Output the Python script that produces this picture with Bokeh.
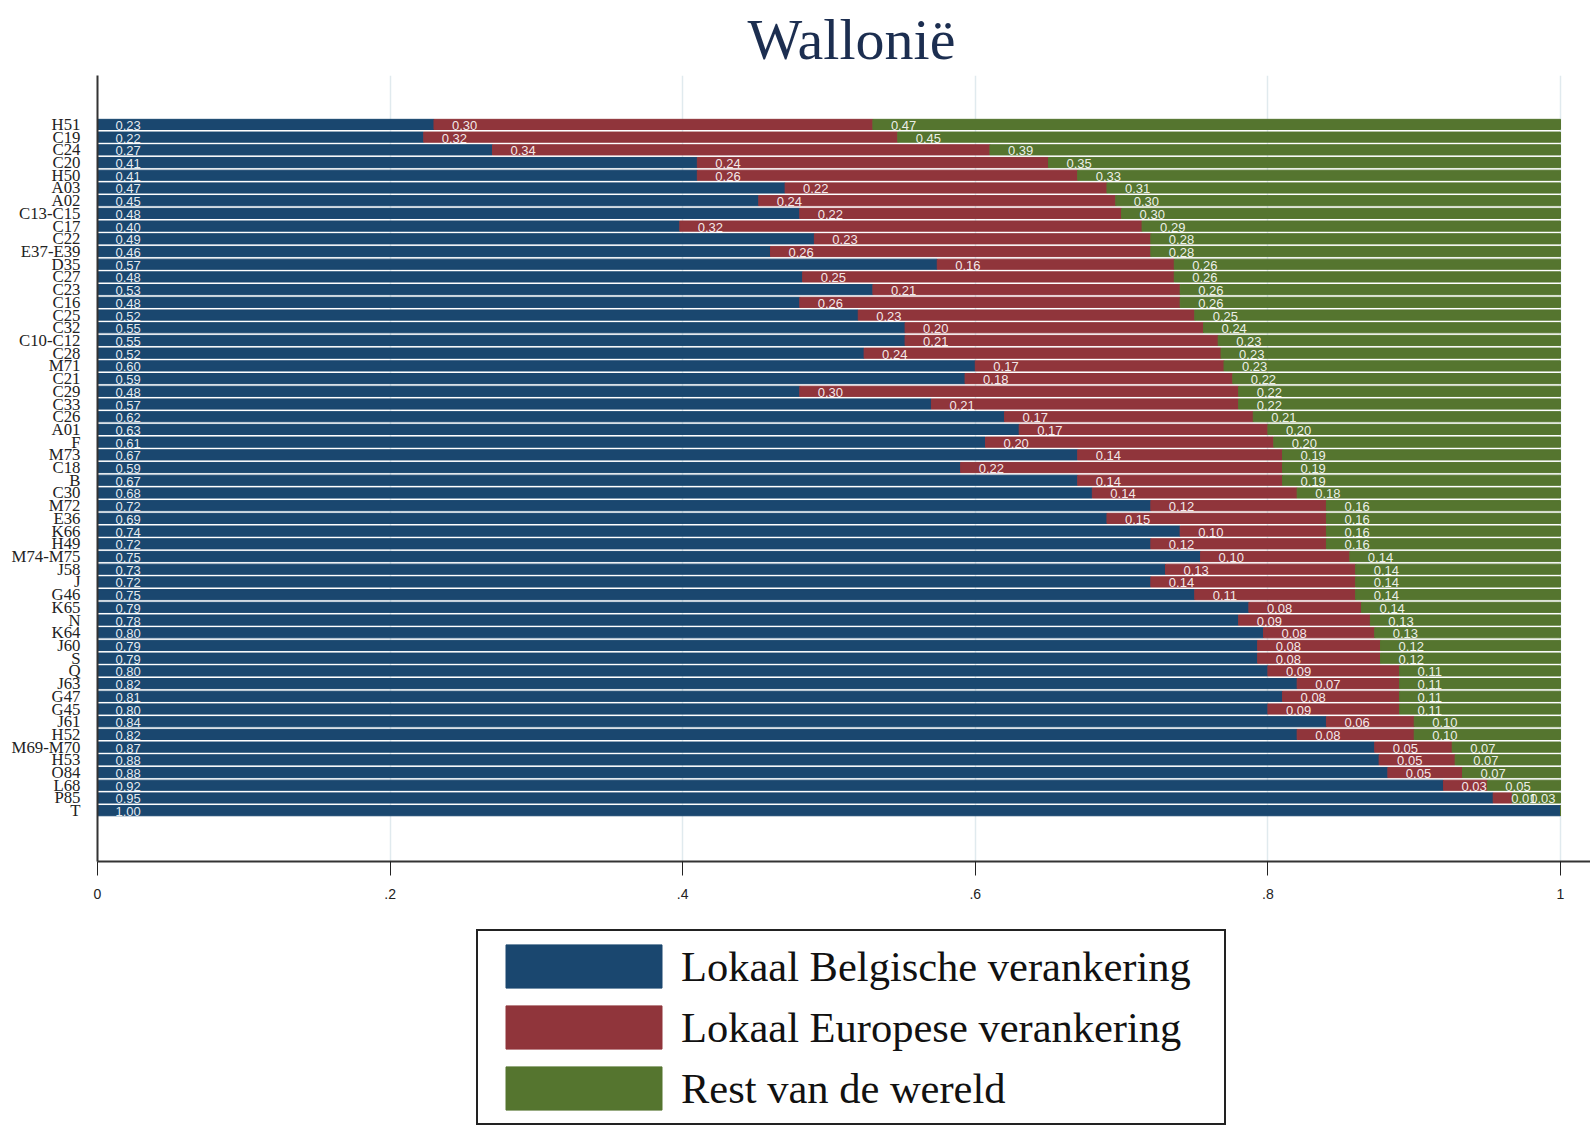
from bokeh.plotting import figure
from bokeh.layouts import column
from bokeh.models import (ColumnDataSource, Legend, LegendItem, FixedTicker, Range1d,
                          CustomJSTickFormatter)
from bokeh.core.properties import value
from bokeh.embed import file_html
from bokeh.resources import INLINE

title_text = "Wallonië"

categories = ["H51", "C19", "C24", "C20", "H50", "A03", "A02", "C13-C15", "C17", "C22",
              "E37-E39", "D35", "C27", "C23", "C16", "C25", "C32", "C10-C12", "C28", "M71",
              "C21", "C29", "C33", "C26", "A01", "F", "M73", "C18", "B", "C30",
              "M72", "E36", "K66", "H49", "M74-M75", "J58", "J", "G46", "K65", "N",
              "K64", "J60", "S", "Q", "J63", "G47", "G45", "J61", "H52", "M69-M70",
              "H53", "O84", "L68", "P85", "T"]

local_be = [0.23, 0.223, 0.27, 0.41, 0.41, 0.47, 0.452, 0.48, 0.398, 0.49,
            0.46, 0.574, 0.482, 0.53, 0.48, 0.52, 0.552, 0.552, 0.524, 0.60,
            0.593, 0.48, 0.57, 0.62, 0.63, 0.607, 0.67, 0.59, 0.67, 0.68,
            0.72, 0.69, 0.74, 0.72, 0.754, 0.73, 0.72, 0.75, 0.787, 0.78,
            0.797, 0.793, 0.793, 0.80, 0.82, 0.81, 0.80, 0.84, 0.82, 0.873,
            0.876, 0.882, 0.92, 0.954, 1.00]

local_eu = [0.30, 0.324, 0.34, 0.24, 0.26, 0.22, 0.244, 0.22, 0.316, 0.23,
            0.26, 0.162, 0.254, 0.21, 0.26, 0.23, 0.204, 0.214, 0.244, 0.17,
            0.183, 0.30, 0.21, 0.17, 0.17, 0.197, 0.14, 0.22, 0.14, 0.14,
            0.12, 0.15, 0.10, 0.12, 0.102, 0.13, 0.14, 0.11, 0.077, 0.09,
            0.076, 0.084, 0.084, 0.09, 0.07, 0.08, 0.09, 0.06, 0.08, 0.053,
            0.052, 0.051, 0.03, 0.013, 0.0]

rest_world = [0.47, 0.453, 0.39, 0.35, 0.33, 0.31, 0.304, 0.30, 0.286, 0.28,
              0.28, 0.264, 0.264, 0.26, 0.26, 0.25, 0.244, 0.234, 0.232, 0.23,
              0.224, 0.22, 0.22, 0.21, 0.20, 0.196, 0.19, 0.19, 0.19, 0.18,
              0.16, 0.16, 0.16, 0.16, 0.144, 0.14, 0.14, 0.14, 0.136, 0.13,
              0.127, 0.123, 0.123, 0.11, 0.11, 0.11, 0.11, 0.10, 0.10, 0.074,
              0.072, 0.067, 0.05, 0.033, 0.0]

series_names = ["Lokaal Belgische verankering", "Lokaal Europese verankering", "Rest van de wereld"]
series_colors = ["#1a476f", "#90353b", "#55752f"]

x_ticks = [0, 0.2, 0.4, 0.6, 0.8, 1]
x_tick_labels = ["0", ".2", ".4", ".6", ".8", "1"]

n = len(categories)
ypos = [n - 1 - i for i in range(n)]

source = ColumnDataSource(dict(y=ypos, be=local_be, eu=local_eu, rw=rest_world))

p = figure(width=1590, height=910,
           x_range=Range1d(0, 1.0205), y_range=Range1d(-4.0, 57.85),
           output_backend="svg", toolbar_location=None,
           min_border_left=97, min_border_right=0, min_border_top=73, min_border_bottom=49)

renderers = p.hbar_stack(["be", "eu", "rw"], y="y", height=0.8, color=series_colors,
                         source=source)

# value labels at the start of each segment
series_vals = [local_be, local_eu, rest_world]
starts = [[0.0] * n,
          list(local_be),
          [a + b for a, b in zip(local_be, local_eu)]]
for vals, st in zip(series_vals, starts):
    xs, ys, txt = [], [], []
    for v, s, yy in zip(vals, st, ypos):
        if v > 0:
            xs.append(s)
            ys.append(yy)
            txt.append(f"{v:.2f}")
    p.text(x=xs, y=ys, text=txt, x_offset=18, y_offset=1,
           text_color="white", text_alpha=0.9,
           text_font=value("Liberation Sans"), text_font_size="13px",
           text_baseline="middle", text_align="left")

# axes
p.xaxis.ticker = FixedTicker(ticks=x_ticks)
p.xaxis.formatter = CustomJSTickFormatter(
    args=dict(vals=x_ticks, labs=x_tick_labels),
    code="const i = vals.findIndex(v => Math.abs(v - tick) < 1e-9); return i >= 0 ? labs[i] : '';")
p.xaxis.major_tick_out = 14
p.xaxis.major_tick_in = 0
p.xaxis.minor_tick_line_color = None
p.xaxis.axis_line_width = 2
p.xaxis.axis_line_color = "#333333"
p.xaxis.major_tick_line_color = "#222222"
p.xaxis.major_label_text_font = "Liberation Sans"
p.xaxis.major_label_text_font_size = "14px"
p.xaxis.major_label_text_color = "#222222"
p.xaxis.major_label_standoff = 13

p.yaxis.ticker = FixedTicker(ticks=ypos)
p.yaxis.formatter = CustomJSTickFormatter(
    args=dict(ys=ypos, names=categories),
    code="const i = ys.indexOf(Math.round(tick)); return i >= 0 ? names[i] : '';")
p.yaxis.major_tick_line_color = None
p.yaxis.major_tick_out = 0
p.yaxis.major_tick_in = 0
p.yaxis.minor_tick_line_color = None
p.yaxis.axis_line_width = 2
p.yaxis.axis_line_color = "#333333"
p.yaxis.major_label_text_font = "Liberation Serif"
p.yaxis.major_label_text_font_size = "16.8px"
p.yaxis.major_label_text_color = "#222222"
p.yaxis.major_label_standoff = 17

p.xgrid.ticker = FixedTicker(ticks=x_ticks)
p.xgrid.grid_line_color = "#e0eaee"
p.xgrid.grid_line_width = 1.5
p.ygrid.grid_line_color = None
p.outline_line_color = None

p.title.text = title_text
p.title.align = "left"
p.title.offset = 650
p.title.text_font = "Liberation Serif"
p.title.text_font_size = "58px"
p.title.text_font_style = "normal"
p.title.text_color = "#1c2e50"
p.title.standoff = 8

# legend panel underneath (its renderers use the same data, drawn outside its visible range)
p2 = figure(width=1590, height=216, x_range=Range1d(0, 1), y_range=Range1d(1000, 1001),
            output_backend="svg", toolbar_location=None, min_border=0)
p2.axis.visible = False
p2.grid.visible = False
p2.outline_line_color = None
legend_renderers = p2.hbar_stack(["be", "eu", "rw"], y="y", height=0.8, color=series_colors,
                                 source=source)

legend = Legend(items=[LegendItem(label=name, renderers=[r]) for name, r in zip(series_names, legend_renderers)],
                location=(379, 1), orientation="vertical",
                glyph_width=195, glyph_height=54, label_standoff=0, label_width=535,
                spacing=7, padding=8, margin=0,
                border_line_color="#222222", border_line_width=2, border_line_alpha=1,
                label_text_font="Liberation Serif", label_text_font_size="42.5px",
                label_text_color="#111111")
p2.add_layout(legend, "center")

open("out.html", "w").write(file_html(column(p, p2), INLINE))
